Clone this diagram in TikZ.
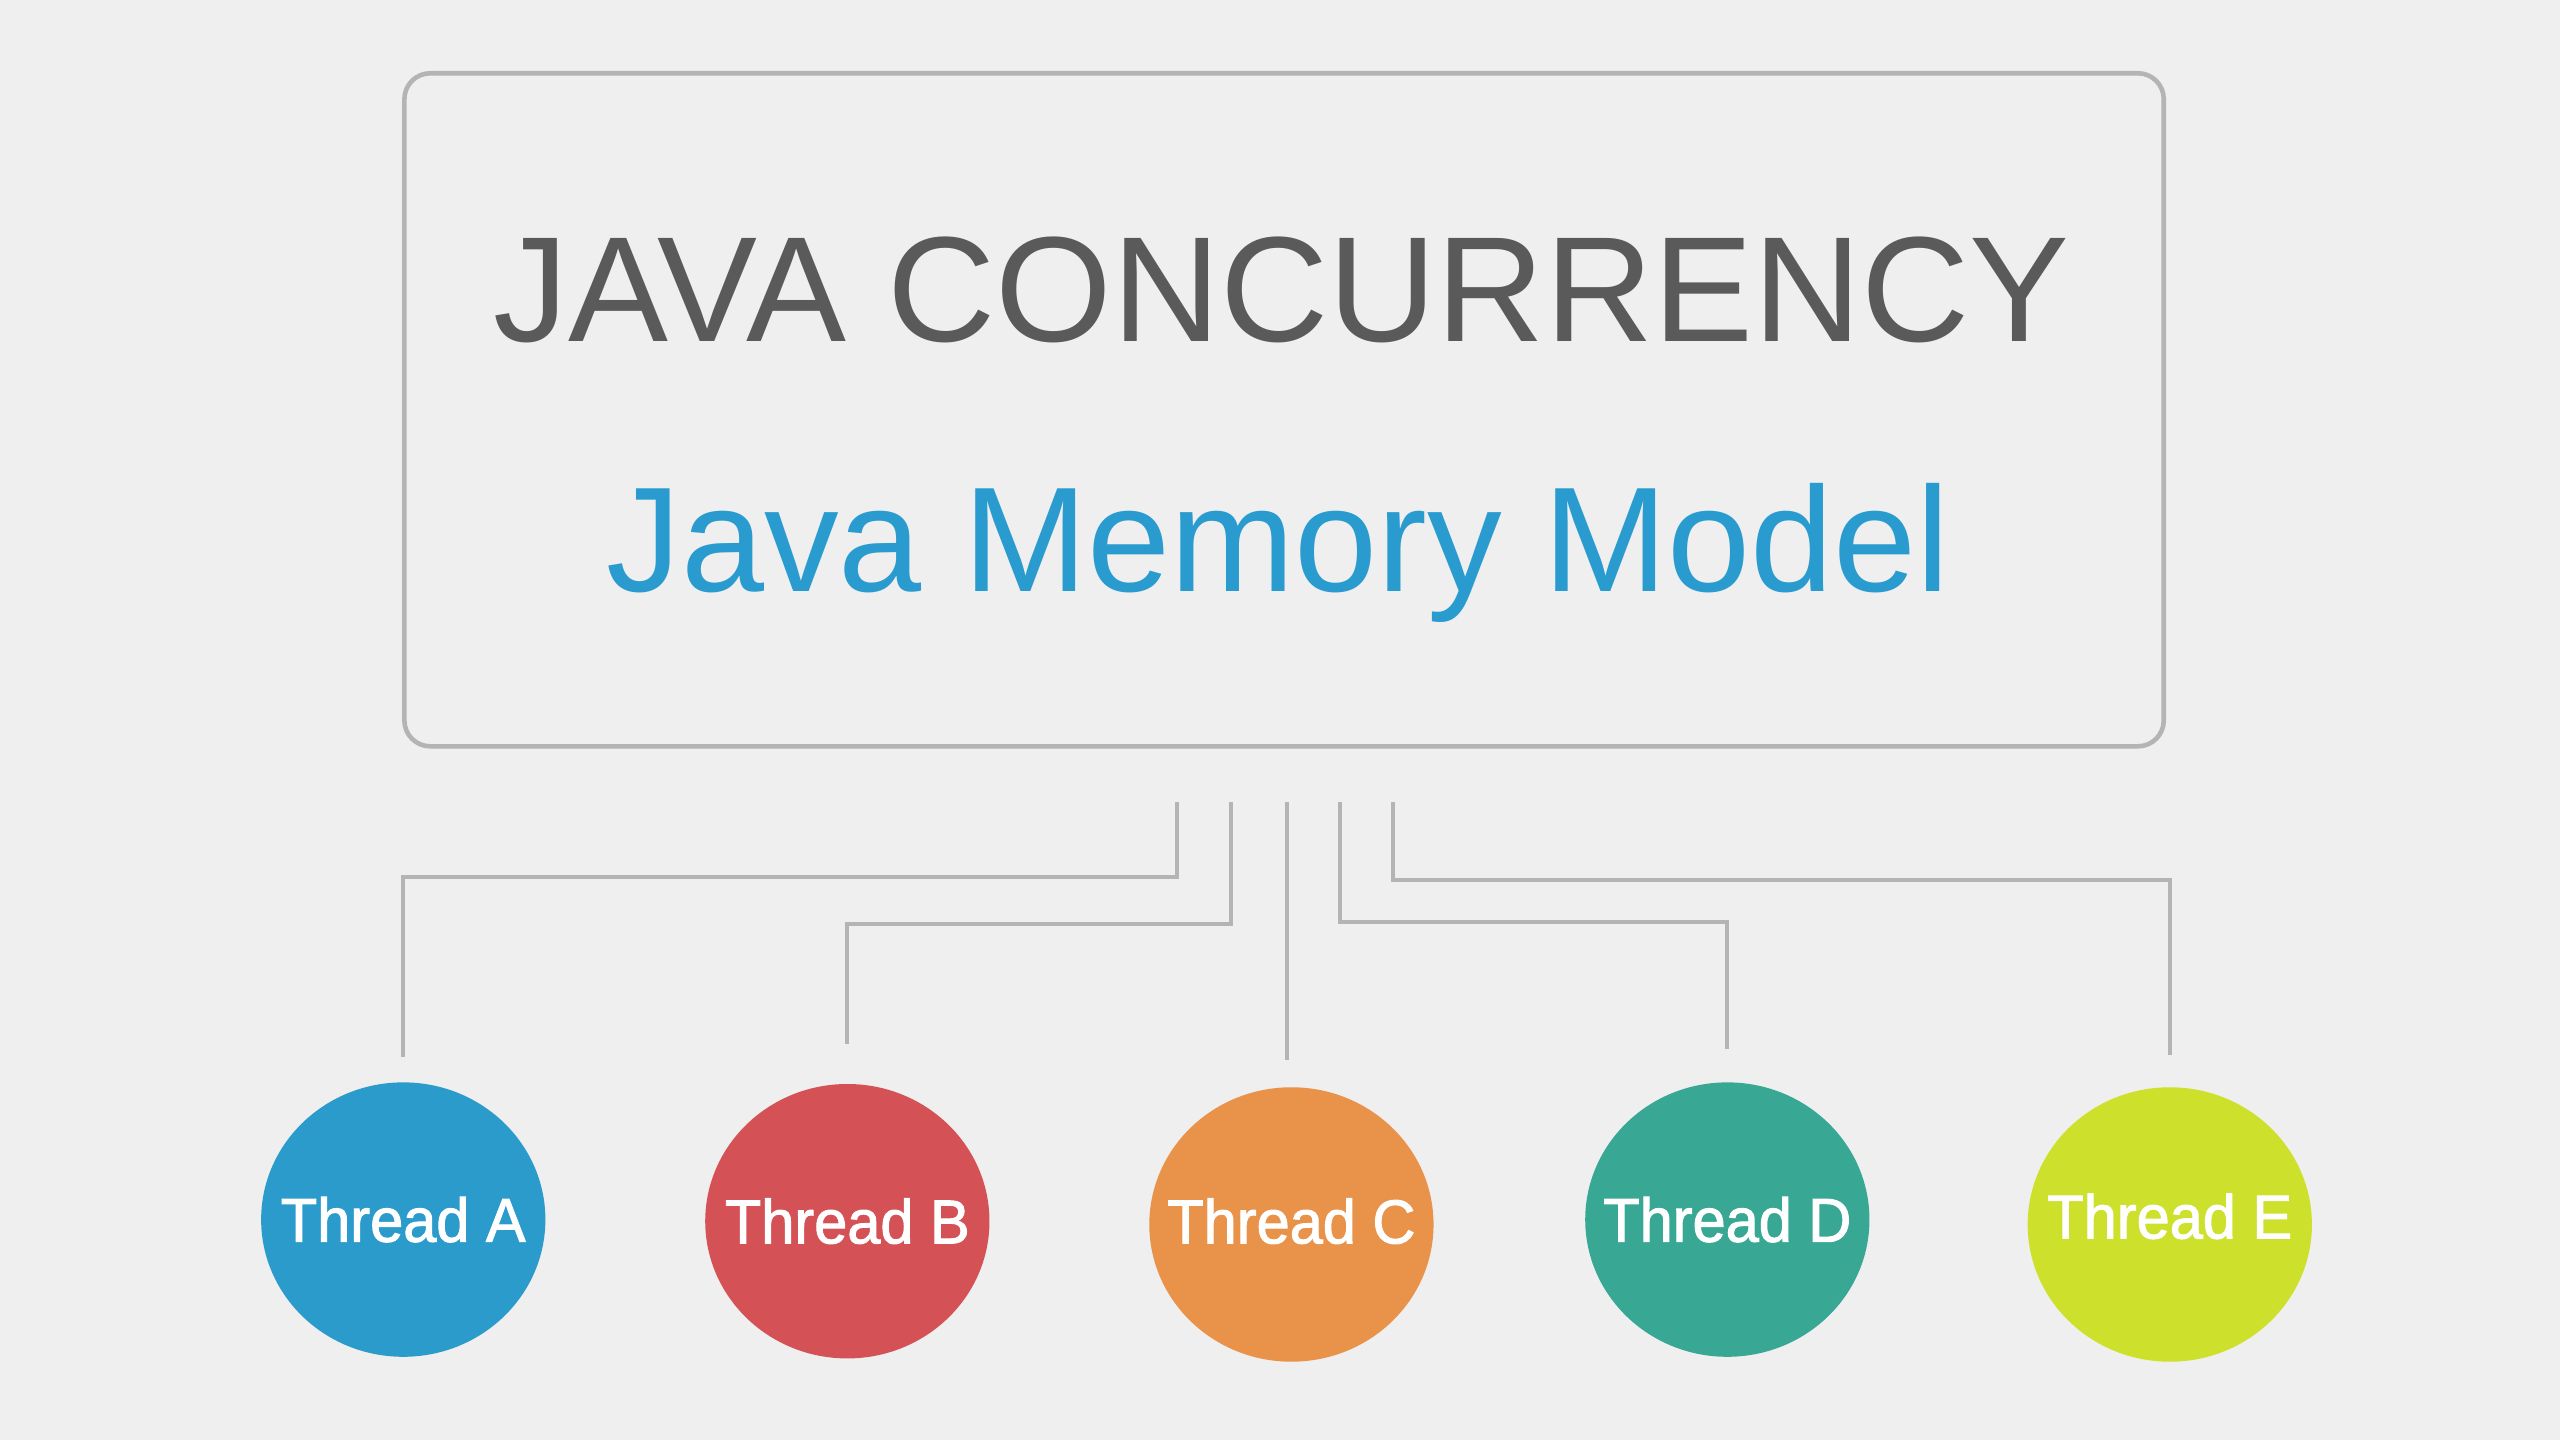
\documentclass[tikz,border=0pt]{standalone}
\usepackage{fontspec}
\setmainfont{Liberation Sans}
\newfontfamily\threadfont[FakeStretch=0.96, FakeBold=1.6]{Liberation Sans}
\usetikzlibrary{shapes,positioning}
\definecolor{bgcol}{HTML}{EFEFEF}
\definecolor{framecol}{HTML}{B4B4B4}
\definecolor{titlecol}{HTML}{5A5A5A}
\definecolor{jmmcol}{HTML}{2A9BCF}
\definecolor{colA}{HTML}{2B9BCC}
\definecolor{colB}{HTML}{D45155}
\definecolor{colC}{HTML}{E9924A}
\definecolor{colD}{HTML}{38A794}
\definecolor{colE}{HTML}{CDE12C}

\begin{document}
\begin{tikzpicture}[x=0.01cm, y=-0.01cm,
    thread/.style={ellipse, inner sep=0pt, minimum width=1.74cm, minimum height=1.68cm},
    threadtxt/.style={text=white, inner sep=0pt, font=\threadfont\fontsize{10.8}{13}\selectfont},
    link/.style={draw=framecol, line width=0.7pt}]
    \fill[bgcol] (0,0) rectangle (1568,882);
    \useasboundingbox (0,0) rectangle (1568,882);

    \node[draw=framecol, line width=0.8pt, rounded corners=4.5pt,
        minimum width=10.77cm, minimum height=4.12cm] (jmm) at (786.5,251) {};
    \node[anchor=base, text=titlecol, font=\fontsize{26.1}{30}\selectfont] (title) at (785,209) {JAVA CONCURRENCY};
    \node[anchor=base, text=jmmcol, font=\fontsize{26}{30}\selectfont] (sub) at (783,362) {Java Memory Model};

    \node[thread, fill=colA, label={[threadtxt]center:Thread A}] (tA) at (247,747) {};
    \node[thread, fill=colB, label={[threadtxt]center:Thread B}] (tB) at (519,748) {};
    \node[thread, fill=colC, label={[threadtxt, yshift=0.02cm]center:Thread C}] (tC) at (791,750) {};
    \node[thread, fill=colD, label={[threadtxt]center:Thread D}] (tD) at (1058,747) {};
    \node[thread, fill=colE, label={[threadtxt, yshift=0.05cm]center:Thread E}] (tE) at (1329,750) {};

    \coordinate (s1) at (721,491);
    \coordinate (s2) at (754,491);
    \coordinate (s3) at (788,491);
    \coordinate (s4) at (821,491);
    \coordinate (s5) at (853,491);

    \draw[link, shorten >=0.15cm] (s1) -- ++(0,46) -| (tA.north);
    \draw[link, shorten >=0.24cm] (s2) -- ++(0,75) -| (tB.north);
    \draw[link, shorten >=0.16cm] (s3) -- (s3 |- tC.north);
    \draw[link, shorten >=0.20cm] (s4) -- ++(0,74) -| (tD.north);
    \draw[link, shorten >=0.19cm] (s5) -- ++(0,48) -| (tE.north);
\end{tikzpicture}
\end{document}
